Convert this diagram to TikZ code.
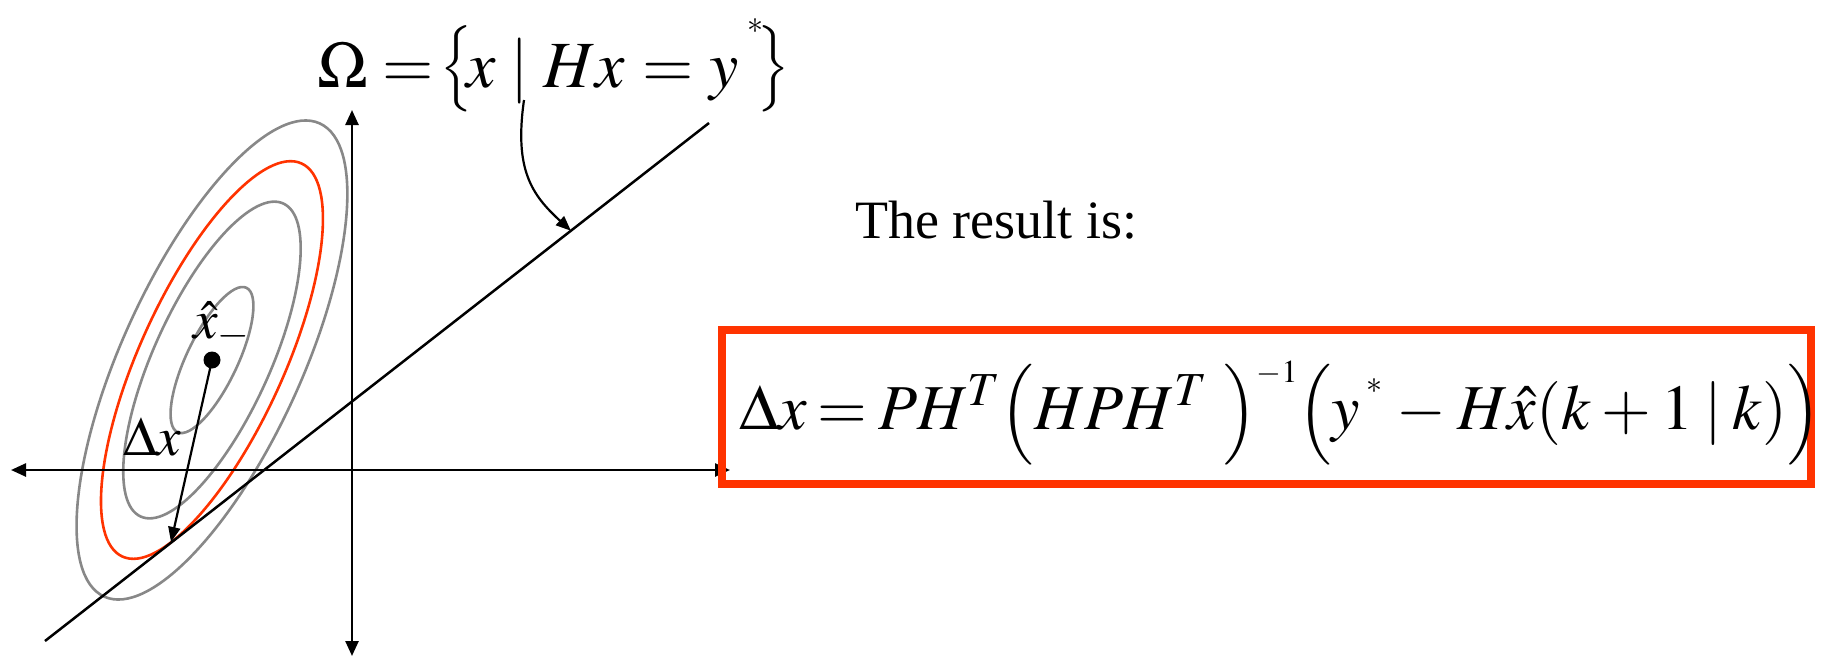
\documentclass[tikz,border=0pt]{standalone}
\usepackage{amsmath}
\usepackage{mathptmx}
\usepackage{fontspec}
\setmainfont{Liberation Serif}
\usetikzlibrary{arrows.meta,calc}
\definecolor{boxred}{RGB}{255,51,0}
\definecolor{ellgray}{RGB}{136,136,136}
\newcommand\dlm[1]{\mbox{\fontsize{56}{60}\selectfont$\Big#1$}}
\newcommand\dlr[1]{\raisebox{6pt}{\fontsize{48}{52}\selectfont$\Big#1$}}
\newcommand\supsm[1]{\mbox{\fontsize{32}{34}\selectfont$#1$}}
\newcommand\myast[1]{\raisebox{#1}{\fontsize{32}{34}\selectfont$*$}}
\begin{document}
\begin{tikzpicture}[x=1pt,y=-1pt,
  axis/.style={line width=2.5pt,{Triangle[length=15pt,width=13pt]}-{Triangle[length=15pt,width=13pt]}},
  arr/.style={line width=2.2pt,-{Triangle[length=15pt,width=12pt]}},
  plain/.style={line width=2.5pt},
  ellg/.style={line width=2.6pt,draw=ellgray},
  ellr/.style={line width=2.6pt,draw=boxred},
  lbl/.style={inner sep=0pt,anchor=base west,font=\fontsize{55}{66}\selectfont}]
\useasboundingbox (0,0) rectangle (1821,659);
% ellipses
\coordinate (c) at (212,360);
\draw[ellg, rotate around={65.5:(c)}] (c) ellipse [x radius=260, y radius=90];
\draw[ellr, rotate around={65.5:(c)}] (c) ellipse [x radius=216, y radius=72];
\draw[ellg, rotate around={65.5:(c)}] (c) ellipse [x radius=172, y radius=58];
\draw[ellg, rotate around={64.5:(c)}] (c) ellipse [x radius=80, y radius=25.5];
% axes
\coordinate (xl) at (11,470);
\coordinate (xr) at (730,470);
\coordinate (yt) at (352,110);
\coordinate (yb) at (352,656);
\draw[axis] (xl) -- (xr);
\draw[axis] (yt) -- (yb);
% constraint line
\coordinate (l1) at (45,641);
\coordinate (l2) at (709,123);
\draw[plain] (l1) -- (l2);
\coordinate (lp) at ($(l1)!0.792!(l2)$);
% point and delta x
\node[circle,fill=black,inner sep=0pt,minimum size=17pt] (dot) at (c) {};
\coordinate (dxend) at (171,542);
\draw[arr] (dot.center) -- (dxend);
\node[lbl] (xhat) at (193,338) {$\hat{x}_{-}$};
\node[lbl] (dxl) at (123,455) {$\Delta x$};
% omega set
\node[inner sep=0pt,anchor=base west,font=\fontsize{66}{79}\selectfont] (omega) at (317,87)
  {$\Omega = \hskip-8pt\dlr\{\hskip-6pt x \mskip4mu|\mskip4mu Hx \hskip2pt=\hskip2pt y\hskip8pt\myast{54pt}\hskip-6pt\dlr\}$};
\coordinate (cstart) at (524,100);
\draw[arr] (cstart) .. controls (514,170) and (532,195) .. (lp);
% result
\node[inner sep=0pt,anchor=base west,font=\fontsize{54}{65}\selectfont] (res) at (855,238) {The result is:};
\node[draw=boxred,line width=8pt,inner sep=0pt,minimum width=1089pt,minimum height=154pt] (box) at (1266.5,407) {};
\node[inner sep=0pt,anchor=base west,font=\fontsize{64}{72}\selectfont] (formula) at (739,429)
  {\thickmuskip=3mu\medmuskip=3mu$\Delta x = PH^{T}\dlm(HPH^{T}\hskip16pt\dlm)^{\supsm{-1}}\dlm(y\hskip6pt\myast{36pt}\hskip4pt - H\hat{x}(k+1\mskip3mu|\mskip3mu k)\dlm)$};
\end{tikzpicture}
\end{document}
